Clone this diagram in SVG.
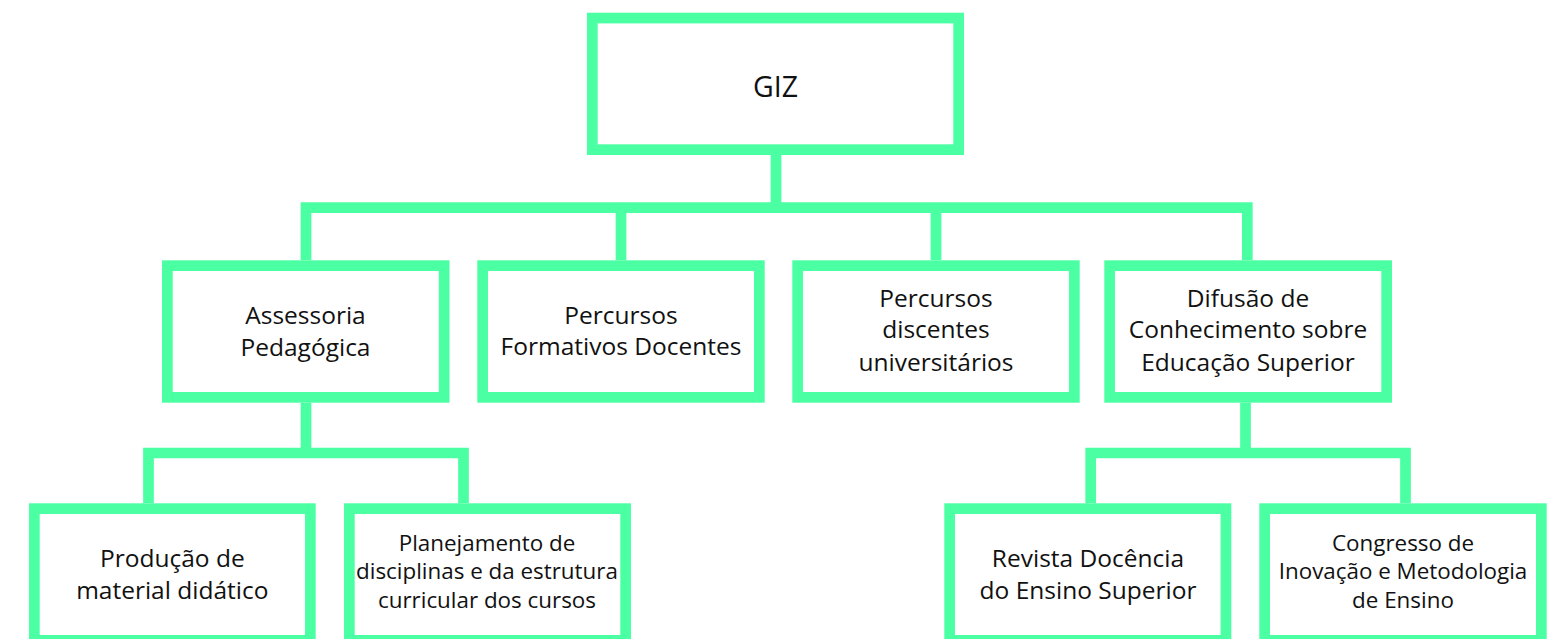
<svg xmlns="http://www.w3.org/2000/svg" width="1564" height="639" viewBox="0 0 1564 639">
  <style>
    .box { fill: #ffffff; stroke: #4BFFA3; stroke-width: 10.7; }
    .conn { fill: none; stroke: #4BFFA3; stroke-width: 10.7; stroke-linejoin: miter; }
    .t { font-family: "Open Sans", "Noto Sans", sans-serif; font-size: 24.5px; fill: #111111; text-anchor: middle; }
    .s { font-size: 22.4px; }
    .g { font-size: 28.5px; }
  </style>
  <rect x="0" y="0" width="1564" height="639" fill="#ffffff"/>
  <g id="connectors">
    <path class="conn" d="M776,155 V207.65"/>
    <path class="conn" d="M306,260.3 V207.65 H1247.3 V260.3"/>
    <path class="conn" d="M621,207.65 V260.3"/>
    <path class="conn" d="M936,207.65 V260.3"/>
    <path class="conn" d="M306,402.7 V453"/>
    <path class="conn" d="M148.5,503.3 V453 H463.5 V503.3"/>
    <path class="conn" d="M1245.5,402.7 V453"/>
    <path class="conn" d="M1090.7,503.3 V453 H1405.5 V503.3"/>
  </g>
  <g id="giz">
    <rect class="box" x="592.35" y="18.05" width="366.3" height="131.6"/>
    <text class="t g" x="775.5" y="96.7">GIZ</text>
  </g>
  <g id="assessoria">
    <rect class="box" x="167.35" y="265.65" width="276.8" height="131.7"/>
    <text class="t" x="305.5" y="324">Assessoria</text>
    <text class="t" x="305.5" y="355.7">Pedagógica</text>
  </g>
  <g id="formativos">
    <rect class="box" x="482.65" y="265.65" width="276.7" height="131.7"/>
    <text class="t" x="621" y="323.5">Percursos</text>
    <text class="t" x="621" y="355.2">Formativos Docentes</text>
  </g>
  <g id="discentes">
    <rect class="box" x="797.65" y="265.65" width="276.7" height="131.7"/>
    <text class="t" x="936" y="306.7">Percursos</text>
    <text class="t" x="936" y="338.4">discentes</text>
    <text class="t" x="936" y="370.7">universitários</text>
  </g>
  <g id="difusao">
    <rect class="box" x="1109.65" y="265.65" width="277" height="131.7"/>
    <text class="t" x="1248" y="306.7">Difusão de</text>
    <text class="t" x="1248" y="338.4">Conhecimento sobre</text>
    <text class="t" x="1248" y="370.7">Educação Superior</text>
  </g>
  <g id="producao">
    <rect class="box" x="34.35" y="508.65" width="276" height="131.7"/>
    <text class="t" x="172.3" y="567.3">Produção de</text>
    <text class="t" x="172.3" y="599">material didático</text>
  </g>
  <g id="planejamento">
    <rect class="box" x="349.35" y="508.65" width="276.3" height="131.7"/>
    <text class="t s" x="487" y="551">Planejamento de</text>
    <text class="t s" x="487" y="579.3">disciplinas e da estrutura</text>
    <text class="t s" x="487" y="608.3">curricular dos cursos</text>
  </g>
  <g id="revista">
    <rect class="box" x="949.65" y="508.65" width="276.3" height="131.7"/>
    <text class="t" x="1088" y="567.3">Revista Docência</text>
    <text class="t" x="1088" y="599">do Ensino Superior</text>
  </g>
  <g id="congresso">
    <rect class="box" x="1264.65" y="508.65" width="276.7" height="131.7"/>
    <text class="t s" x="1403" y="551">Congresso de</text>
    <text class="t s" x="1403" y="579.3">Inovação e Metodologia</text>
    <text class="t s" x="1403" y="608.3">de Ensino</text>
  </g>
</svg>
